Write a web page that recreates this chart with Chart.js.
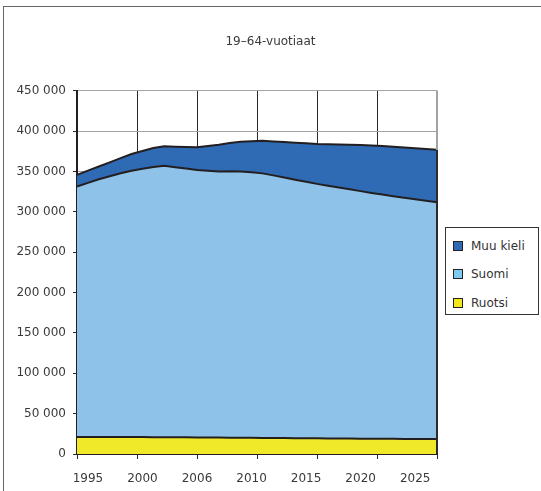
<!DOCTYPE html>
<html>
<head>
<meta charset="utf-8">
<script src="https://cdn.jsdelivr.net/npm/chart.js@4.4.1/dist/chart.umd.min.js"></script>
<style>
  html, body { margin: 0; padding: 0; background: #fff; }
  #wrap { position: relative; width: 541px; height: 491px; overflow: hidden; }
  #frame { position: absolute; left: 3px; top: 6px; width: 700px; height: 700px;
           border-left: 1px solid #666; border-top: 1px solid #666; }
  #chart { position: absolute; left: 0; top: 0; }
  #legend { position: absolute; left: 445px; top: 227px; width: 94px; height: 88px;
            box-sizing: border-box; border: 1px solid #333; background: #fff;
            font: 12px "DejaVu Sans", sans-serif; color: #333; }
  .item { position: absolute; left: 7px; height: 14px; line-height: 14px; white-space: nowrap; }
  .dot { display: inline-block; width: 8px; height: 8px; border: 1px solid #222;
         vertical-align: -1px; margin-right: 8px; }
</style>
</head>
<body>
<div id="wrap">
  <div id="frame"></div>
  <canvas id="chart" width="541" height="491"></canvas>
  <div id="legend"></div>
</div>
<script>
// 19–64-vuotiaat by mother tongue, stacked area.
const TITLE = "19\u201364-vuotiaat";

// one category per year step; only some of them carry a label
const CATEGORIES = [
  "1994", "1995", "1996", "1997", "1998", "1999", "2000", "2001", "2002", "2003",
  "2004", "2005", "2006", "2007", "2008", "2009", "2010", "2011", "2012", "2013",
  "2014", "2015", "2016", "2017", "2018", "2019", "2020", "2021", "2022", "2023",
  "2024", "2025", "2026", "2027"
];
const XTICK_LABELS = ["1995", "2000", "2006", "2010", "2015", "2020", "2025"];
const XTICK_AT = [1, 6, 11, 16, 21, 26, 31];

const RUOTSI = [
  21000, 21100, 21200, 21200, 21200, 21100, 21000, 20900, 20800, 20700,
  20600, 20500, 20400, 20300, 20200, 20100, 20000, 19900, 19800, 19700,
  19600, 19500, 19400, 19300, 19200, 19100, 19000, 18900, 18900, 18800,
  18700, 18600, 18600, 18500
];
const SUOMI = [
  310300, 314700, 319100, 322900, 326600, 329800, 332200, 334600, 336100, 334500,
  332900, 331400, 330400, 329600, 330000, 329800, 329000, 327700, 325300, 322900,
  320200, 317700, 315200, 313100, 310900, 308800, 306600, 304500, 302400, 300600,
  298800, 296900, 295000, 293200
];
const MUU_KIELI = [
  14500, 15200, 15800, 17200, 18700, 20700, 22200, 23400, 24200, 25500,
  26900, 28100, 30800, 33200, 35100, 36800, 38500, 40400, 42100, 43800,
  45800, 47700, 49500, 51300, 53200, 55000, 57000, 58800, 60200, 61200,
  62200, 63300, 64300, 65300
];

const Y_MAX = 450000;
const Y_STEP = 50000;

const FILL = { ruotsi: "#f0e92a", suomi: "#8ec2e8", muu: "#2f6bb4" };
const LEGEND_FILL = { ruotsi: "#f2e81c", suomi: "#80caef", muu: "#2f6ab3" };
const LINE = "#231f20";
const GRID_DARK = "#2b2b2b";
const GRID_GRAY = "#a3a3a3";
const TEXT = "#3a3a3a";
const FONT = { family: "'DejaVu Sans', sans-serif", size: 12 };

function area(label, data, fillColor, fillTo) {
  return {
    label, data,
    backgroundColor: fillColor,
    borderColor: LINE,
    borderWidth: 2,
    fill: fillTo,
    pointRadius: 0,
    tension: 0
  };
}

// right-hand frame line: gray above the data, black along the filled edge
function rightEdgeColor(c) {
  const chart = c.chart;
  const ca = chart.chartArea;
  const y = chart.scales.y;
  if (!ca || !y) return GRID_DARK;
  const last = CATEGORIES.length - 1;
  const topPx = y.getPixelForValue(RUOTSI[last] + SUOMI[last] + MUU_KIELI[last]);
  const f = Math.min(1, Math.max(0, (topPx - ca.top) / (ca.bottom - ca.top)));
  const g = chart.ctx.createLinearGradient(0, ca.top, 0, ca.bottom);
  g.addColorStop(0, GRID_GRAY);
  g.addColorStop(f, GRID_GRAY);
  g.addColorStop(f, GRID_DARK);
  g.addColorStop(1, GRID_DARK);
  return g;
}

const chart = new Chart(document.getElementById("chart"), {
  type: "line",
  data: {
    labels: CATEGORIES,
    datasets: [
      area("Ruotsi", RUOTSI, FILL.ruotsi, "origin"),
      area("Suomi", SUOMI, FILL.suomi, "-1"),
      area("Muu kieli", MUU_KIELI, FILL.muu, "-1")
    ]
  },
  options: {
    responsive: false,
    animation: false,
    layout: { padding: { left: 0, right: 0, top: 0, bottom: 5 } },
    scales: {
      x: {
        type: "category",
        position: "bottom",
        weight: 10,
        offset: false,
        afterFit: (s) => { s.height = 27; },
        grid: { display: false, drawTicks: false },
        border: { display: false },
        ticks: {
          autoSkip: false,
          maxRotation: 0,
          padding: 13,
          color: TEXT,
          font: FONT,
          callback: (v, i) => {
            const k = XTICK_AT.indexOf(i);
            return k >= 0 ? XTICK_LABELS[k] : "";
          }
        }
      },
      // grid / tick-mark axis: 6 equal divisions across the plot
      xg: {
        type: "linear",
        position: "bottom",
        weight: 0,
        min: 0,
        max: 6,
        ticks: { display: false, stepSize: 1 },
        grid: {
          color: (c) => (c.tick && c.tick.value === 6 ? GRID_GRAY : GRID_DARK),
          tickColor: GRID_DARK,
          tickLength: 5,
          lineWidth: 1
        },
        border: { color: LINE, width: 2 }
      },
      xe: {
        type: "linear",
        position: "bottom",
        weight: 1,
        min: 0,
        max: 1,
        afterFit: (s) => { s.height = 0; },
        afterBuildTicks: (s) => { s.ticks = [{ value: 1 }]; },
        ticks: { display: false },
        grid: { drawTicks: false, color: rightEdgeColor, lineWidth: 2, z: 1 },
        border: { display: false }
      },
      y: {
        stacked: true,
        min: 0,
        max: Y_MAX,
        afterFit: (s) => { s.width = 77; },
        ticks: {
          stepSize: Y_STEP,
          padding: 7,
          color: TEXT,
          font: FONT,
          callback: (v) => (v === 0 ? "0" : (v / 1000) + " 000")
        },
        grid: { color: GRID_GRAY, tickColor: GRID_DARK, tickLength: 4, lineWidth: 1 },
        border: { color: LINE, width: 2 }
      },
      // empty right-hand strip that leaves room for the legend box
      yr: {
        position: "right",
        min: 0,
        max: 1,
        afterFit: (s) => { s.width = 104; },
        ticks: { display: false },
        grid: { display: false, drawTicks: false },
        border: { display: false }
      }
    },
    plugins: {
      legend: { display: false },
      tooltip: { enabled: false },
      title: {
        display: true,
        text: TITLE,
        color: TEXT,
        font: { family: FONT.family, size: 12, weight: "normal" },
        padding: { top: 35, bottom: 41.3 }
      }
    }
  }
});

// legend box, top item = top band
(function renderLegend() {
  const box = document.getElementById("legend");
  const keys = ["muu", "suomi", "ruotsi"];
  const tops = [11, 39, 68];
  const sets = chart.data.datasets.slice().reverse();
  sets.forEach((ds, i) => {
    const row = document.createElement("div");
    row.className = "item";
    row.style.top = tops[i] + "px";
    const dot = document.createElement("span");
    dot.className = "dot";
    dot.style.background = LEGEND_FILL[keys[i]];
    const label = document.createElement("span");
    label.textContent = ds.label;
    row.appendChild(dot);
    row.appendChild(label);
    box.appendChild(row);
  });
})();
</script>
</body>
</html>
